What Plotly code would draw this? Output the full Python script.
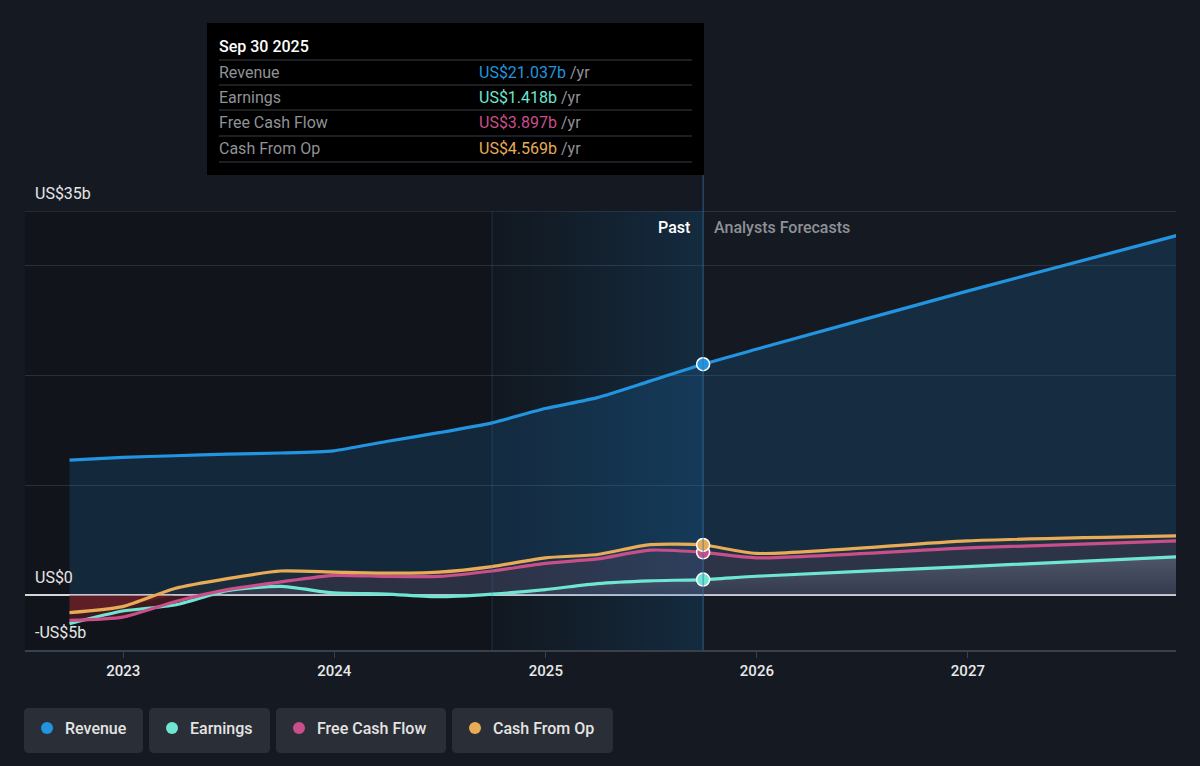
import plotly.graph_objects as go

# ---------------- data (US$ billions) ----------------
past_dates = ['2022-09-30', '2022-12-31', '2023-03-31', '2023-06-30', '2023-09-30', '2023-12-31',
              '2024-03-31', '2024-06-30', '2024-09-30', '2024-12-31', '2025-03-31', '2025-06-30',
              '2025-09-30']
forecast_dates = ['2025-12-31', '2026-12-31', '2027-12-31']

revenue_past = [12.3, 12.55, 12.7, 12.85, 12.95, 13.15, 14.0, 14.8, 15.7, 17.0, 18.0, 19.5, 21.037]
revenue_forecast = [22.4, 27.7, 32.8]

earnings_past = [-2.6, -1.45, -0.9, 0.4, 0.8, 0.2, 0.1, -0.15, 0.1, 0.5, 1.05, 1.3, 1.418]
earnings_forecast = [1.72, 2.6, 3.5]

fcf_past = [-2.3, -2.0, -0.6, 0.5, 1.2, 1.8, 1.7, 1.7, 2.2, 2.9, 3.3, 4.1, 3.897]
fcf_forecast = [3.4, 4.3, 4.95]

cfo_past = [-1.6, -1.05, 0.6, 1.5, 2.2, 2.1, 2.0, 2.1, 2.6, 3.4, 3.7, 4.6, 4.569]
cfo_forecast = [3.8, 4.95, 5.4]

series_names = ['Revenue', 'Earnings', 'Free Cash Flow', 'Cash From Op']
series_colors = ['#2394df', '#6ee6d2', '#c94f8a', '#e8ab57']

x_tick_vals = ['2023-01-01', '2024-01-01', '2025-01-01', '2026-01-01', '2027-01-01']
x_tick_text = ['2023', '2024', '2025', '2026', '2027']
y_grid_vals = [10, 20, 30]
y_label_vals = [35, 0, -5]
y_label_text = ['US$35b', 'US$0', '-US$5b']

highlight_start = '2024-09-30'
cutoff_date = '2025-09-30'
tooltip_title = 'Sep 30 2025'

# ---------------- layout constants ----------------
W, H = 1200, 766
ML, MR, MT, MB = 25, 24, 211, 116
PW = W - ML - MR
PH = H - MT - MB
Y_MIN, Y_MAX = -5, 35
X_RANGE = ['2022-07-15', '2027-12-27']
FONT = 'Roboto, sans-serif'
BG = '#151a22'


def px2x(px):
    return (px - ML) / PW


def px2y(py):
    return (H - MB - py) / PH


def rounded_rect(x0, y0, x1, y1, r):
    def p(x, y):
        return f'{px2x(x):.5f},{px2y(y):.5f}'
    return (f'M {p(x0 + r, y0)} L {p(x1 - r, y0)} Q {p(x1, y0)} {p(x1, y0 + r)} '
            f'L {p(x1, y1 - r)} Q {p(x1, y1)} {p(x1 - r, y1)} L {p(x0 + r, y1)} '
            f'Q {p(x0, y1)} {p(x0, y1 - r)} L {p(x0, y0 + r)} Q {p(x0, y0)} {p(x0 + r, y0)} Z')


dates = past_dates + forecast_dates
revenue = revenue_past + revenue_forecast
earnings = earnings_past + earnings_forecast
fcf = fcf_past + fcf_forecast
cfo = cfo_past + cfo_forecast
all_series = [revenue, earnings, fcf, cfo]

fig = go.Figure()

# highlight band (last 12 months of past) with horizontal gradient
fig.add_trace(go.Scatter(
    x=[highlight_start, cutoff_date, cutoff_date, highlight_start, highlight_start],
    y=[Y_MIN, Y_MIN, Y_MAX, Y_MAX, Y_MIN],
    mode='lines', line=dict(width=0), fill='toself',
    fillgradient=dict(type='horizontal',
                      colorscale=[[0, 'rgba(30,110,180,0.03)'], [1, 'rgba(30,120,190,0.22)']]),
    hoverinfo='skip', showlegend=False))

spline = dict(shape='spline', smoothing=0.6)

# revenue fill
fig.add_trace(go.Scatter(
    x=dates, y=revenue, mode='lines', line=dict(width=0, **spline), fill='tozeroy',
    fillcolor='rgba(33,140,230,0.16)', hoverinfo='skip', showlegend=False))

# negative (red) fills
for s in [cfo, fcf]:
    fig.add_trace(go.Scatter(
        x=dates, y=[min(v, 0) for v in s], mode='lines', line=dict(width=0), fill='tozeroy',
        fillcolor='rgba(150,40,45,0.35)', hoverinfo='skip', showlegend=False))

# positive fills for the small series
fig.add_trace(go.Scatter(
    x=dates, y=[max(v, 0) for v in cfo], mode='lines', line=dict(width=0, **spline),
    fill='tozeroy', fillcolor='rgba(230,170,80,0.04)', hoverinfo='skip', showlegend=False))
fig.add_trace(go.Scatter(
    x=dates, y=[max(v, 0) for v in fcf], mode='lines', line=dict(width=0, **spline),
    fill='tozeroy', fillcolor='rgba(200,80,140,0.10)', hoverinfo='skip', showlegend=False))
fig.add_trace(go.Scatter(
    x=dates, y=[max(v, 0) for v in earnings], mode='lines', line=dict(width=0, **spline),
    fill='tozeroy',
    fillgradient=dict(type='vertical',
                      colorscale=[[0, 'rgba(200,210,220,0.04)'], [1, 'rgba(215,225,235,0.2)']]),
    hoverinfo='skip', showlegend=False))

# lines
for idx in [1, 2, 3, 0]:
    fig.add_trace(go.Scatter(
        x=dates, y=all_series[idx], mode='lines',
        line=dict(color=series_colors[idx], width=3.2, **spline),
        name=series_names[idx], hoverinfo='skip', showlegend=False))

# markers at cutoff
for idx in [1, 2, 3, 0]:
    fig.add_trace(go.Scatter(
        x=[past_dates[-1]], y=[all_series[idx][len(past_dates) - 1]], mode='markers',
        marker=dict(size=13, color=series_colors[idx], line=dict(color='white', width=1.5)),
        hoverinfo='skip', showlegend=False))

shapes = []
# darker past region
shapes.append(dict(type='rect', xref='x', yref='y', x0=X_RANGE[0], x1=cutoff_date,
                   y0=Y_MIN, y1=Y_MAX, fillcolor='rgba(0,0,0,0.18)', line=dict(width=0),
                   layer='below'))
# top gridline (US$35b)
shapes.append(dict(type='line', xref='paper', yref='y', x0=0, x1=1, y0=Y_MAX, y1=Y_MAX,
                   line=dict(color='#343a43', width=1.5), layer='below'))
# vertical lines
shapes.append(dict(type='line', xref='x', yref='paper', x0=cutoff_date, x1=cutoff_date,
                   y0=0, y1=px2y(175), line=dict(color='rgba(55,115,165,0.75)', width=1)))
shapes.append(dict(type='line', xref='x', yref='y', x0=highlight_start, x1=highlight_start,
                   y0=Y_MIN, y1=Y_MAX, line=dict(color='rgba(55,115,165,0.3)', width=1)))
# tooltip box
shapes.append(dict(type='rect', xref='paper', yref='paper', x0=px2x(207), x1=px2x(704),
                   y0=px2y(175), y1=px2y(23), fillcolor='#000000', line=dict(width=0)))
for sy in [60, 85, 110, 136, 162]:
    shapes.append(dict(type='line', xref='paper', yref='paper', x0=px2x(219), x1=px2x(692),
                       y0=px2y(sy), y1=px2y(sy), line=dict(color='#3a3d42', width=1)))
# legend boxes
legend_boxes = [(24, 143), (149, 270), (276, 446), (452, 613)]
for (bx0, bx1), col in zip(legend_boxes, series_colors):
    shapes.append(dict(type='path', xref='paper', yref='paper',
                       path=rounded_rect(bx0, 708, bx1, 753, 5),
                       fillcolor='#2a2f37', line=dict(width=0)))
    cx = bx0 + 23
    shapes.append(dict(type='circle', xref='paper', yref='paper',
                       x0=px2x(cx - 6), x1=px2x(cx + 6), y0=px2y(728 + 6), y1=px2y(728 - 6),
                       fillcolor=col, line=dict(width=0)))

annotations = []
for v, t in zip(y_label_vals, y_label_text):
    annotations.append(dict(xref='paper', yref='y', x=px2x(33), y=v, xanchor='left',
                            yanchor='bottom', yshift=6, text=t, showarrow=False,
                            font=dict(family=FONT, size=16, color='#e6e6e6')))
annotations.append(dict(xref='x', yref='paper', x=cutoff_date, y=px2y(228), xanchor='right',
                        yanchor='middle', xshift=-11, text='Past', showarrow=False,
                        font=dict(family=FONT, size=16, color='#ffffff', weight=500)))
annotations.append(dict(xref='x', yref='paper', x=cutoff_date, y=px2y(228), xanchor='left',
                        yanchor='middle', xshift=9, text='Analysts Forecasts', showarrow=False,
                        font=dict(family=FONT, size=16, color='#8d9196', weight=500)))
# tooltip text
annotations.append(dict(xref='paper', yref='paper', x=px2x(217), y=px2y(46), xanchor='left',
                        yanchor='middle', text=tooltip_title, showarrow=False,
                        font=dict(family=FONT, size=16, color='#ffffff', weight=500)))
row_y = [72, 97, 123, 148]
for i, ry in enumerate(row_y):
    annotations.append(dict(xref='paper', yref='paper', x=px2x(217), y=px2y(ry), xanchor='left',
                            yanchor='middle', text=series_names[i], showarrow=False,
                            font=dict(family=FONT, size=16, color='#8f9296')))
    val = all_series[i][len(past_dates) - 1]
    annotations.append(dict(xref='paper', yref='paper', x=px2x(477), y=px2y(ry), xanchor='left',
                            yanchor='middle', showarrow=False,
                            text=f"<span style='color:{series_colors[i]}'>US${val:.3f}b</span> /yr",
                            font=dict(family=FONT, size=16, color='#8f9296')))
# legend text
for (bx0, bx1), name in zip(legend_boxes, series_names):
    annotations.append(dict(xref='paper', yref='paper', x=px2x(bx0 + 39), y=px2y(728),
                            xanchor='left', yanchor='middle', text=name, showarrow=False,
                            font=dict(family=FONT, size=16, color='#e4e4e4', weight=500)))

fig.update_layout(
    width=W, height=H, autosize=False,
    margin=dict(l=ML, r=MR, t=MT, b=MB, pad=0),
    paper_bgcolor=BG, plot_bgcolor=BG,
    font=dict(family=FONT),
    shapes=shapes, annotations=annotations,
    showlegend=False,
    xaxis=dict(type='date', range=X_RANGE, tickvals=x_tick_vals, ticktext=x_tick_text,
               showgrid=False, zeroline=False, showline=True, linecolor='#3a4049', linewidth=2,
               ticks='outside', ticklen=6, tickcolor='#3a4049', tickwidth=1,
               tickfont=dict(family=FONT, size=15, color='#e8e8e8', weight=500),
               fixedrange=True),
    yaxis=dict(range=[Y_MIN, Y_MAX], tickvals=y_grid_vals, showticklabels=False,
               showgrid=True, gridcolor='#2a3039', gridwidth=1,
               zeroline=True, zerolinecolor='#d4d6d8', zerolinewidth=1.5,
               showline=False, fixedrange=True),
)

fig.write_html('out.html')
